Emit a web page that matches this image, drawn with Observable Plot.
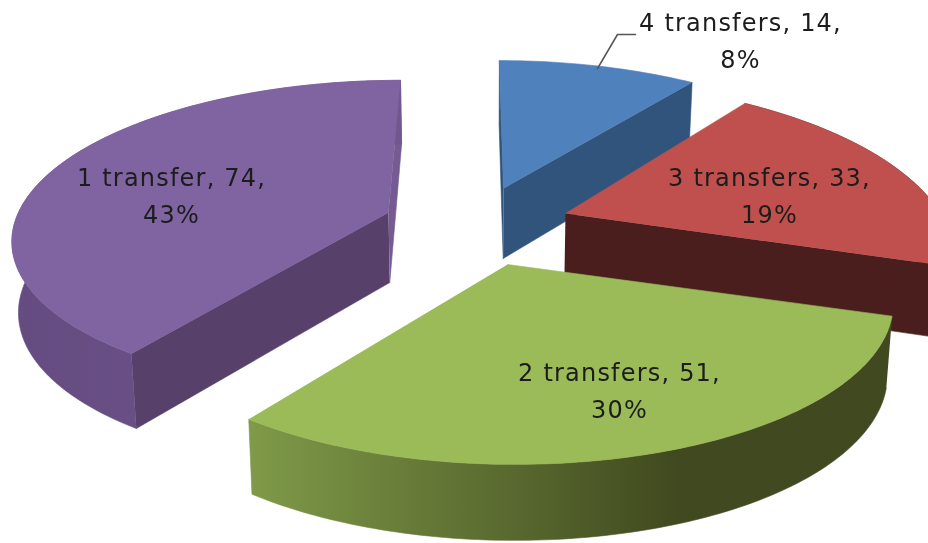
<!DOCTYPE html>
<html>
<head>
<meta charset="utf-8">
<script src="https://cdn.jsdelivr.net/npm/d3@7"></script>
<script src="https://cdn.jsdelivr.net/npm/@observablehq/plot@0.6"></script>
<style>
html,body{margin:0;padding:0;background:#fff}
svg{display:block;filter:blur(0.5px)}
svg text{letter-spacing:1.2px}
</style>
</head>
<body>
<div id="chart"></div>
<script>
// Data
const categories = ["4 transfers", "3 transfers", "2 transfers", "1 transfer"];
const counts = [14, 33, 51, 74];
const percentLabels = ["8%", "19%", "30%", "43%"];

// View settings of the exploded perspective pie (not data)
const W = 928, H = 543;
const centre = {x: 472, y: 222};
const explode = [[31, -34], [93, -9], [35, 42], [-84, -10]];
const radiusX = [375, 375, 375, 370];
const radiusY = [156, 162, 156, 152];
const perspective = [0.2195, 0.2195, 0.2195, 0.15];
const VX = 480;
const boundaryTwist = [0, 7.7, 9.6, 10.3, 0]; // degrees the 3-D view turns each slice boundary

const topColor  = ["#4f81bd", "#c0504d", "#9bbb59", "#8064a2"];
const startWall = ["#31547c", null, null, "#57406a"];
const endWall   = ["#31547c", "#4a1e1c", null, "#765b93"];
const arcWall   = [null, "#4a1e1c", "url(#greenWall)", "url(#purpleWall)"];
const labelAnchors = [[740, 37.5], [769, 192], [619, 387.5], [171, 192]];
const leader = [{x: 597, y: 68}, {x: 617, y: 34}, {x: 635, y: 34}];

const total = d3.sum(counts);
const boundaries = [0, ...d3.cumsum(counts)].map(c => c / total * 360);
const twist = d3.scaleLinear(boundaries, boundaryTwist);

function project(i, r, deg, lower) {
  const o = {x: centre.x + explode[i][0], y: centre.y + explode[i][1]};
  const K = perspective[i];
  const t = (deg + twist(deg)) * Math.PI / 180;
  const X = r * Math.sin(t), Y = r * Math.cos(t), w = 1 + K * Y;
  let x = o.x + (radiusX[i] * X + (VX - o.x) * K * Y) / w;
  let y = o.y - radiusY[i] * Y / w;
  if (lower) { y += 70 - 6 * Y; x += (VX - x) * 0.014; }
  return {x, y};
}

const faces = [];
for (const i of [0, 1, 3, 2]) {
  const a0 = boundaries[i], a1 = boundaries[i + 1];
  const arc = d3.range(a0, a1, 1).concat(a1);
  const P = (r, d, l) => project(i, r, d, l);
  if (startWall[i]) faces.push({fill: startWall[i], pts: [P(0, a0), P(1, a0), P(1, a0, true), P(0, a0, true)]});
  if (endWall[i]) faces.push({fill: endWall[i], pts: [P(0, a1), P(1, a1), P(1, a1, true), P(0, a1, true)]});
  if (arcWall[i]) faces.push({fill: arcWall[i], pts: [...arc.map(d => P(1, d)), ...arc.slice().reverse().map(d => P(1, d, true))]});
  faces.push({fill: topColor[i], pts: [P(0, a0), ...arc.map(d => P(1, d))]});
}

const labels = categories.map((c, i) => ({
  text: `${c}, ${counts[i]},\n${percentLabels[i]}`,
  x: labelAnchors[i][0],
  y: labelAnchors[i][1]
}));

const defs = () => {
  const d = d3.create("svg:defs");
  const grad = (id, stops) => {
    const g = d.append("linearGradient").attr("id", id);
    stops.forEach(([o, c]) => g.append("stop").attr("offset", o).attr("stop-color", c));
  };
  grad("greenWall", [[0, "#7f9a48"], [0.67, "#40491f"], [1, "#40491f"]]);
  grad("purpleWall", [[0, "#644b80"], [1, "#72578e"]]);
  return d.node();
};

const chart = Plot.plot({
  width: W, height: H,
  margin: 0,
  x: {domain: [0, W], range: [0, W], axis: null},
  y: {domain: [0, H], range: [0, H], axis: null},
  style: {background: "#fff"},
  marks: [
    defs,
    ...faces.map(f => Plot.line(f.pts, {x: "x", y: "y", fill: f.fill, stroke: f.fill, strokeWidth: 0.6})),
    Plot.line(leader, {x: "x", y: "y", stroke: "#555", strokeWidth: 1.5}),
    Plot.text(labels, {
      x: "x", y: "y", text: "text",
      fontFamily: "DejaVu Sans", fontSize: 24, lineHeight: 1.53,
      fill: "#1c1c1c", textAnchor: "middle"
    })
  ]
});
document.getElementById("chart").append(chart);
</script>
</body>
</html>
